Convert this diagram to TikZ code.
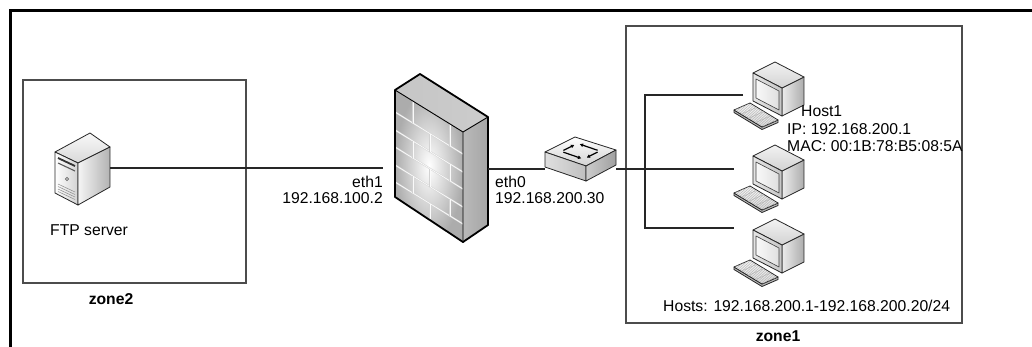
\documentclass[tikz,border=0pt]{standalone}
\usepackage{fontspec}
\setmainfont{Liberation Sans}
\usetikzlibrary{arrows.meta}
\tikzset{
  facedraw/.style={draw=black!85, line width=0.8pt, line join=round},
  % tower server, origin near the middle of the box
  server/.pic={
    \shade[top color=gray!5, bottom color=gray!30, facedraw]
      (-27,-17) -- (8,-36) -- (28,-22) -- (-4,-6) -- cycle;
    \shade[left color=white, right color=gray!35, facedraw]
      (-27,-17) -- (-4,-6) -- (-4,36) -- (-27,24) -- cycle;
    \shade[left color=gray!8, right color=gray!60, facedraw]
      (-4,-6) -- (28,-22) -- (28,18) -- (-4,36) -- cycle;
    \draw[black!80, line width=1.8pt] (-24,-11) -- (-7,-3);
    \draw[black!65, line width=1.1pt] (-24,-6) -- (-7,2);
    \draw[black!60, line width=0.6pt] (-15,10) circle (1.6);
    \foreach \v in {15,17.5,20,22.5}
      \draw[black!45, line width=0.5pt] (-24,\v) -- (-7,{\v+8});
    \coordinate (-e) at (28,-1);
  },
  % brick wall firewall
  firewall/.pic={
    \shade[inner color=white, outer color=gray!65]
      (-46,-68) -- (22,-26) -- (22,84) -- (-46,39) -- cycle;
    \foreach \yl in {-46,-28,-11,7,24} {
      \draw[gray!35, line width=1.6pt] (-46,\yl) -- (22,{\yl+42});
      \draw[white!96!gray, line width=0.7pt] (-46,\yl) -- (22,{\yl+42});
    }
    \foreach \yt/\yb/\xs in {-68/-46/{-28,9}, -46/-28/{-11}, -28/-11/{-28,9},
                             -11/7/{-11}, 7/24/{-28,9}, 24/39/{-11}}
      \foreach \xj in \xs {
        \draw[gray!35, line width=1.6pt]
          (\xj,{\yt+0.6176*(\xj+46)}) -- (\xj,{\yb+0.6176*(\xj+46)});
        \draw[white!96!gray, line width=0.7pt]
          (\xj,{\yt+0.6176*(\xj+46)}) -- (\xj,{\yb+0.6176*(\xj+46)});
      }
    \shade[left color=gray!45, middle color=gray!5, right color=gray!40]
      (-46,-68) -- (-21,-84) -- (47,-41) -- (22,-26) -- cycle;
    \shade[left color=gray!55, middle color=white, right color=gray!70]
      (22,-26) -- (47,-41) -- (47,67) -- (22,84) -- cycle;
    \draw[black, line width=0.9pt, line join=round]
      (-46,-68) -- (22,-26) -- (47,-41) (22,-26) -- (22,84);
    \draw[black, line width=1.8pt, line join=round]
      (-46,-68) -- (-21,-84) -- (47,-41) -- (47,67) -- (22,84) -- (-46,39) -- cycle;
    \coordinate (-w) at (-58,10);
    \coordinate (-e) at (47,11);
  },
  % flat workgroup switch
  switch/.pic={
    \shade[top color=white, bottom color=gray!35, facedraw]
      (-35,-8) -- (-5,-23) -- (36,-10) -- (6,6) -- cycle;
    \shade[left color=gray!25, right color=gray!50, facedraw]
      (-35,-8) -- (6,6) -- (6,21) -- (-35,7) -- cycle;
    \shade[left color=gray!40, right color=gray!75, facedraw]
      (6,6) -- (36,-10) -- (36,5) -- (6,21) -- cycle;
    \begin{scope}[line width=1.2pt, -{Latex[length=3.5pt,width=4pt]}]
      \draw (17.6,-9.7) -- (-0.4,-15.9);
      \draw (-16.6,-7.8) -- (1.4,-1.6);
      \draw (-16.6,-9.6) -- (-5.6,-15.1);
      \draw (17.6,-7.9) -- (6.6,-2.4);
    \end{scope}
    \coordinate (-w) at (-35,9);
    \coordinate (-e) at (36,9);
  },
  % desktop computer with keyboard
  pc/.pic={
    \shade[left color=gray!15, right color=gray!65, facedraw]
      (12,-7) -- (34,-18) -- (34,10) -- (12,21) -- cycle;
    \shade[top color=gray!10, bottom color=gray!35, facedraw]
      (-17,-22) -- (5,-33) -- (34,-18) -- (12,-7) -- cycle;
    \shade[left color=gray!20, right color=gray!45, facedraw]
      (-17,-22) -- (12,-7) -- (12,21) -- (-17,6) -- cycle;
    \shade[left color=gray!5, right color=gray!25, draw=black!75, line width=0.6pt, line join=round]
      (-14,-16) -- (9,-4) -- (9,15) -- (-14,3) -- cycle;
    \fill[gray!55, facedraw]
      (-36,15) -- (-36,17.5) -- (-8,34.5) -- (8,27.5) -- (8,25) -- (-8,32) -- cycle;
    \shade[top color=white, bottom color=gray!25, facedraw]
      (-36,15) -- (-20,8) -- (8,25) -- (-8,32) -- cycle;
    \foreach \t in {0.25,0.5,0.75}
      \draw[gray!60, line width=0.4pt]
        ({-36+28*\t},{15+17*\t}) -- ({-20+28*\t},{8+17*\t});
    \foreach \t in {0.1,0.2,...,0.9}
      \draw[gray!60, line width=0.4pt]
        ({-36+16*\t},{15-7*\t}) -- ({-8+16*\t},{32-7*\t});
  },
}
\begin{document}
\begin{tikzpicture}[x=1pt, y=-1pt,
  wire/.style={draw=black!85, line width=1.1pt},
  zonebox/.style={draw=black!70, line width=1.3pt},
  lbl/.style={font=\fontsize{15.7}{18}\selectfont, inner sep=0pt},
  zonelbl/.style={font=\fontsize{15.7}{18}\selectfont\bfseries, inner sep=0pt},
]
\useasboundingbox (0,0) rectangle (1032,346);
\clip (0,0) rectangle (1032,346);
\fill[white] (0,0) rectangle (1032,346);

% frame and zones
\draw[black, line width=3pt] (10.3,360) -- (10.3,10.3) -- (1050,10.3);
\draw[zonebox] (23,80) rectangle (246,283);
\draw[zonebox] (626,26) rectangle (962,323);

% attachment points of the host links
\coordinate (h1w) at (743,95);
\coordinate (h2w) at (734,169);
\coordinate (h3w) at (734,228);
\coordinate (bus) at (645,169);

% devices
\pic (srv) at (82,169) {server};
\pic (fw) at (441,158) {firewall};
\pic (sw) at (580,160) {switch};
\pic (h1) at (770,95) {pc};
\pic (h2) at (770,178) {pc};
\pic (h3) at (770,252) {pc};

% links
\draw[wire] (srv-e) -- (fw-w);
\draw[wire] (fw-e) -- (sw-w);
\draw[wire] (sw-e) -- (h2w);
\draw[wire] (h1w) -| (bus) |- (h3w);

% labels
\node[lbl, anchor=base west] (ftp) at (50,235) {FTP server};
\node[zonelbl, anchor=base] (z2) at (111,304.5) {zone2};
\node[lbl, anchor=base east] (eth1) at (383,187) {eth1};
\node[lbl, anchor=base east] (ip1) at (383,203.5) {192.168.100.2};
\node[lbl, anchor=base west] (eth0) at (495,187) {eth0};
\node[lbl, anchor=base west] (ip0) at (495,203.5) {192.168.200.30};
\node[lbl, anchor=base west] (hname) at (801,116.5) {Host1};
\node[lbl, anchor=base west] (hip) at (787,134) {IP: 192.168.200.1};
\node[lbl, anchor=base west] (hmac) at (787,151.5) {MAC: 00:1B:78:B5:08:5A};
\node[lbl, anchor=base west] (hosts) at (663,311.5) {Hosts: 192.168.200.1-192.168.200.20/24};
\node[zonelbl, anchor=base] (z1) at (778,341) {zone1};
\end{tikzpicture}
\end{document}
